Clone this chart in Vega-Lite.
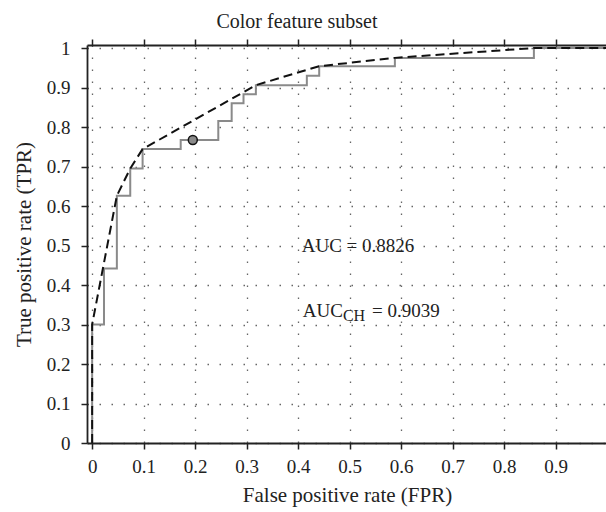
{
  "$schema": "https://vega.github.io/schema/vega-lite/v6.json",
  "width": 520,
  "height": 398,
  "autosize": "none",
  "padding": {"left": 87, "top": 45, "right": 0, "bottom": 69},
  "background": "white",
  "title": {"text": "Color feature subset", "font": "Liberation Serif", "fontSize": 20, "fontWeight": "normal", "color": "#222", "dx": -50, "offset": 6},
  "config": {
    "view": {"stroke": null},
    "axis": {
      "labelFont": "Liberation Serif", "titleFont": "Liberation Serif",
      "labelFontSize": 19, "titleFontSize": 21, "titleFontWeight": "normal",
      "labelColor": "#222", "titleColor": "#222",
      "domainColor": "#222", "domainWidth": 1.8,
      "tickColor": "#222", "tickWidth": 1.5, "tickSize": 6,
      "gridColor": "#666", "gridDash": [1.5, 10.5], "gridWidth": 1.3
    }
  },
  "datasets": {
    "roc": [
      {"fpr": 0, "tpr": 0, "i": 0},
      {"fpr": 0, "tpr": 0.300, "i": 1},
      {"fpr": 0.023, "tpr": 0.442, "i": 2},
      {"fpr": 0.048, "tpr": 0.626, "i": 3},
      {"fpr": 0.074, "tpr": 0.695, "i": 4},
      {"fpr": 0.098, "tpr": 0.744, "i": 5},
      {"fpr": 0.172, "tpr": 0.767, "i": 6},
      {"fpr": 0.245, "tpr": 0.815, "i": 7},
      {"fpr": 0.271, "tpr": 0.860, "i": 8},
      {"fpr": 0.294, "tpr": 0.883, "i": 9},
      {"fpr": 0.318, "tpr": 0.906, "i": 10},
      {"fpr": 0.417, "tpr": 0.930, "i": 11},
      {"fpr": 0.441, "tpr": 0.954, "i": 12},
      {"fpr": 0.588, "tpr": 0.975, "i": 13},
      {"fpr": 0.858, "tpr": 1.0, "i": 14},
      {"fpr": 1.0, "tpr": 1.0, "i": 15}
    ],
    "hull": [
      {"fpr": 0, "tpr": 0, "i": 0},
      {"fpr": 0, "tpr": 0.300, "i": 1},
      {"fpr": 0.048, "tpr": 0.626, "i": 2},
      {"fpr": 0.074, "tpr": 0.695, "i": 3},
      {"fpr": 0.098, "tpr": 0.744, "i": 4},
      {"fpr": 0.318, "tpr": 0.906, "i": 5},
      {"fpr": 0.441, "tpr": 0.954, "i": 6},
      {"fpr": 0.588, "tpr": 0.975, "i": 7},
      {"fpr": 0.858, "tpr": 1.0, "i": 8},
      {"fpr": 1.0, "tpr": 1.0, "i": 9}
    ],
    "op": [{"fpr": 0.1955, "tpr": 0.767}],
    "labels": [
      {"fpr": 0.407, "tpr": 0.4835, "text": "AUC  =  0.8826"},
      {"fpr": 0.409, "tpr": 0.3197, "text": "AUC"},
      {"fpr": 0.5437, "tpr": 0.3197, "text": "=  0.9039"}
    ],
    "sub": [{"fpr": 0.487, "tpr": 0.3076, "text": "CH"}]
  },
  "layer": [
    {
      "data": {"name": "roc"},
      "mark": {"type": "line", "interpolate": "step-after", "color": "#8a8a8a", "strokeWidth": 2},
      "encoding": {
        "x": {"field": "fpr", "type": "quantitative", "scale": {"domain": [-0.01, 1.0], "nice": false, "zero": false},
              "axis": {"orient": "bottom", "title": "False positive rate (FPR)", "values": [0, 0.1, 0.2, 0.3, 0.4, 0.5, 0.6, 0.7, 0.8, 0.9], "format": ".1~f", "grid": true, "labelPadding": 8, "titlePadding": 8, "labelFlush": false}},
        "y": {"field": "tpr", "type": "quantitative", "scale": {"domain": [0, 1.0076], "nice": false},
              "axis": {"title": "True positive rate (TPR)", "values": [0, 0.1, 0.2, 0.3, 0.4, 0.5, 0.6, 0.7, 0.8, 0.9, 1], "format": ".1~f", "grid": true, "labelPadding": 11, "titlePadding": 12, "labelFlush": false}},
        "order": {"field": "i", "type": "quantitative"}
      }
    },
    {
      "data": {"name": "hull"},
      "mark": {"type": "line", "color": "#111", "strokeWidth": 2, "strokeDash": [9, 5]},
      "encoding": {
        "x": {"field": "fpr", "type": "quantitative",
              "axis": {"orient": "top", "title": null, "labels": false, "grid": false, "values": [0, 0.1, 0.2, 0.3, 0.4, 0.5, 0.6, 0.7, 0.8, 0.9]}},
        "y": {"field": "tpr", "type": "quantitative",
              "axis": {"title": "True positive rate (TPR)", "values": [0, 0.1, 0.2, 0.3, 0.4, 0.5, 0.6, 0.7, 0.8, 0.9, 1], "format": ".1~f", "grid": true, "labelPadding": 11, "titlePadding": 12, "labelFlush": false}},
        "order": {"field": "i", "type": "quantitative"}
      }
    },
    {
      "data": {"name": "op"},
      "mark": {"type": "point", "filled": true, "fill": "#8a8a8a", "stroke": "#111", "strokeWidth": 1.5, "size": 80, "opacity": 1},
      "encoding": {
        "x": {"field": "fpr", "type": "quantitative", "axis": null},
        "y": {"field": "tpr", "type": "quantitative",
              "axis": {"title": "True positive rate (TPR)", "values": [0, 0.1, 0.2, 0.3, 0.4, 0.5, 0.6, 0.7, 0.8, 0.9, 1], "format": ".1~f", "grid": true, "labelPadding": 11, "titlePadding": 12, "labelFlush": false}}
      }
    },
    {
      "data": {"name": "labels"},
      "mark": {"type": "text", "align": "left", "baseline": "alphabetic", "font": "Liberation Serif", "fontSize": 19, "color": "#222"},
      "encoding": {
        "x": {"field": "fpr", "type": "quantitative", "axis": null},
        "y": {"field": "tpr", "type": "quantitative",
              "axis": {"title": "True positive rate (TPR)", "values": [0, 0.1, 0.2, 0.3, 0.4, 0.5, 0.6, 0.7, 0.8, 0.9, 1], "format": ".1~f", "grid": true, "labelPadding": 11, "titlePadding": 12, "labelFlush": false}},
        "text": {"field": "text"}
      }
    },
    {
      "data": {"name": "sub"},
      "mark": {"type": "text", "align": "left", "baseline": "alphabetic", "font": "Liberation Serif", "fontSize": 16, "color": "#222"},
      "encoding": {
        "x": {"field": "fpr", "type": "quantitative", "axis": null},
        "y": {"field": "tpr", "type": "quantitative",
              "axis": {"title": "True positive rate (TPR)", "values": [0, 0.1, 0.2, 0.3, 0.4, 0.5, 0.6, 0.7, 0.8, 0.9, 1], "format": ".1~f", "grid": true, "labelPadding": 11, "titlePadding": 12, "labelFlush": false}},
        "text": {"field": "text"}
      }
    }
  ],
  "resolve": {"axis": {"x": "independent"}}
}
